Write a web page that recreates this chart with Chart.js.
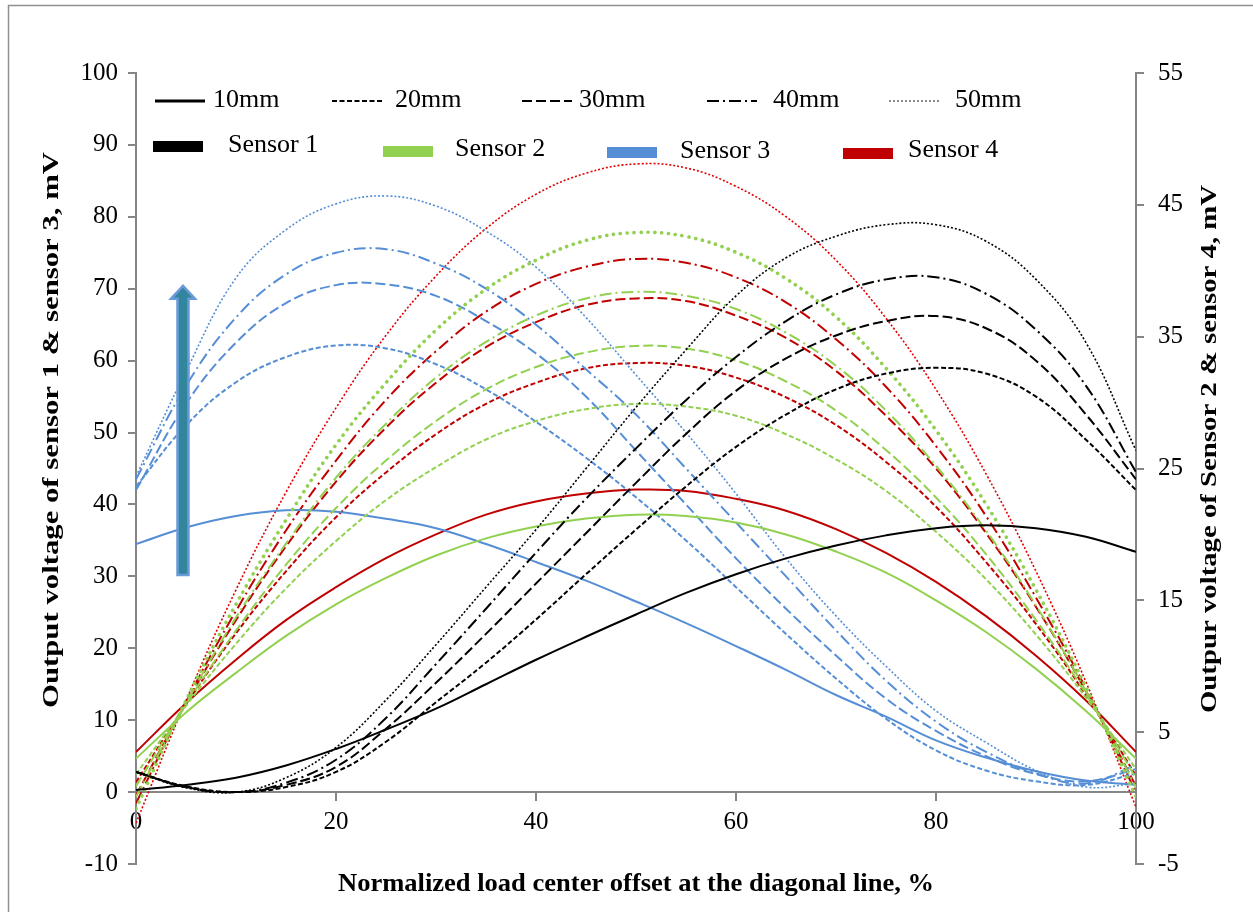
<!DOCTYPE html>
<html>
<head>
<meta charset="utf-8">
<script src="https://cdn.jsdelivr.net/npm/chart.js@4.4.1/dist/chart.umd.min.js"></script>
<style>
html,body{margin:0;padding:0;background:#fff}
canvas{display:block}
</style>
</head>
<body>
<canvas id="chart" width="1253" height="912"></canvas>
<script>
// x positions (normalized load center offset, %)
const xs = [0,5,10,15,20,25,30,35,40,45,50,55,60,65,70,75,80,85,90,95,100];

// Sensor 1 (left axis, mV)
const s1_10mm = [0.3,1.0,2.0,3.7,6.0,8.7,11.6,15.0,18.4,21.6,24.7,27.7,30.3,32.5,34.3,35.7,36.7,37.1,36.7,35.5,33.4];
const s1_20mm = [2.8,0.8,0.0,0.7,2.8,7.0,12.5,18.0,24.0,30.3,36.5,42.5,48.0,52.5,56.0,58.2,59.0,58.2,55.0,49.0,42.0];
const s1_30mm = [2.8,0.7,0.0,1.0,3.5,8.8,15.2,22.0,29.0,36.0,43.0,49.8,55.8,60.3,63.5,65.5,66.2,64.5,60.0,52.5,43.5];
const s1_40mm = [2.8,0.7,0.0,1.3,4.5,10.3,17.8,25.5,33.3,40.8,47.8,54.5,60.5,65.5,69.2,71.3,71.6,69.3,64.3,56.5,44.5];
const s1_50mm = [2.8,0.6,0.0,2.0,6.2,12.8,20.5,28.5,36.5,45.0,53.5,61.5,69.0,74.3,77.3,78.9,78.9,76.6,71.3,62.5,47.5];

// Sensor 3 (left axis, mV)
const s3_10mm = [34.5,36.8,38.4,39.2,39.0,38.0,36.7,34.5,32.0,29.4,26.5,23.5,20.3,17.0,13.5,10.5,7.2,4.8,2.9,1.6,1.0];
const s3_20mm = [42.5,51.0,57.0,60.5,62.1,61.7,59.5,56.0,51.5,46.5,41.0,35.0,28.5,22.0,15.8,10.2,5.8,3.0,1.5,1.0,2.6];
const s3_30mm = [42.0,54.0,62.5,68.0,70.5,70.6,69.0,65.5,61.0,55.0,47.5,40.0,32.5,25.5,19.0,13.0,8.5,5.0,2.5,1.5,3.2];
const s3_40mm = [43.5,56.5,66.0,72.0,75.0,75.5,73.5,70.0,65.0,58.8,52.5,45.0,37.5,30.0,22.5,15.5,9.8,5.6,2.6,1.2,3.8];
const s3_50mm = [43.9,58.5,71.5,78.2,81.8,82.9,81.5,78.0,73.0,66.0,58.0,50.0,41.5,32.5,24.5,17.5,11.3,6.9,3.0,0.7,1.2];

// Sensor 2 (right axis, mV)
const s2_10mm = [3.0,6.5,9.5,12.3,14.7,16.7,18.4,19.7,20.6,21.2,21.5,21.4,20.9,20.0,18.7,17.1,15.0,12.6,9.8,6.6,3.0];
const s2_20mm = [1.8,7.0,11.7,15.9,19.5,22.6,25.1,27.2,28.6,29.5,29.9,29.7,29.0,27.6,25.7,23.3,20.2,16.6,12.4,7.6,2.2];
const s2_30mm = [0.9,7.1,12.7,17.7,22.0,25.6,28.6,31.0,32.7,33.8,34.3,34.1,33.2,31.6,29.4,26.4,22.8,18.5,13.5,7.9,1.5];
const s2_40mm = [0.1,7.2,13.7,19.3,24.3,28.4,31.9,34.6,36.6,37.9,38.4,38.1,37.1,35.3,32.8,29.4,25.2,20.3,14.6,8.1,0.8];
const s2_50mm = [-0.8,7.4,14.7,21.1,26.8,31.5,35.5,38.6,40.8,42.3,42.9,42.6,41.4,39.4,36.5,32.6,27.9,22.3,15.8,8.4,0.1];

// Sensor 4 (right axis, mV)
const s4_10mm = [3.5,7.2,10.5,13.5,16.0,18.2,20.0,21.5,22.5,23.1,23.4,23.3,22.7,21.8,20.4,18.6,16.4,13.8,10.8,7.4,3.5];
const s4_20mm = [1.2,7.1,12.5,17.2,21.3,24.7,27.6,29.9,31.5,32.6,33.0,32.8,31.9,30.4,28.3,25.5,22.1,17.9,13.2,7.8,1.7];
const s4_30mm = [0.2,7.2,13.5,19.1,24.0,28.1,31.5,34.2,36.1,37.4,37.9,37.7,36.6,34.9,32.4,29.0,25.0,20.1,14.5,8.1,0.9];
const s4_40mm = [-0.4,7.3,14.2,20.3,25.6,30.2,33.9,36.9,39.0,40.3,40.9,40.6,39.5,37.6,34.8,31.2,26.7,21.4,15.2,8.3,0.4];
const s4_50mm = [-1.9,7.4,15.8,23.2,29.6,35.1,39.6,43.2,45.8,47.4,48.1,47.8,46.4,44.1,40.8,36.4,31.0,24.6,17.2,8.8,-0.7];

const sizeNames = ['10mm','20mm','30mm','40mm','50mm'];
const sensorNames = ['Sensor 1','Sensor 2','Sensor 3','Sensor 4'];
const leftTicks = {min:-10, max:100, step:10};
const rightTicks = {min:-5, max:55, step:10};
const xTicks = {min:0, max:100, step:20};

const titleLeft = 'Output voltage of sensor 1 & sensor 3, mV';
const titleRight = 'Outpur voltage of Sensor 2 & sensor 4, mV';
const titleX = 'Normalized load center offset at the diagonal line, %';

// styles
const serif = "'Liberation Serif','Times New Roman',serif";
const axisGray = '#868686';
const sensorColors = ['#000000','#92D050','#558ED5','#C00000'];
const dashes = [[], [5,2.5], [10,4], [12,4,2,4], [2,2]];

const sensors = [
  {series:[s1_10mm,s1_20mm,s1_30mm,s1_40mm,s1_50mm], axis:'yL', color:sensorColors[0]},
  {series:[s2_10mm,s2_20mm,s2_30mm,s2_40mm,s2_50mm], axis:'yR', color:sensorColors[1]},
  {series:[s3_10mm,s3_20mm,s3_30mm,s3_40mm,s3_50mm], axis:'yL', color:sensorColors[2]},
  {series:[s4_10mm,s4_20mm,s4_30mm,s4_40mm,s4_50mm], axis:'yR', color:sensorColors[3]},
];

const datasets = [];
sensors.forEach((s,si)=>{
  s.series.forEach((vals,k)=>{
    const ds = {
      label: sensorNames[si]+' '+sizeNames[k],
      data: xs.map((x,i)=>({x:x, y:vals[i]})),
      yAxisID: s.axis,
      borderColor: s.color,
      borderWidth: 2,
      borderDash: dashes[k],
      pointRadius: 0,
      tension: 0.4,
      fill: false
    };
    if(k===4){
      ds.borderWidth = 1.6;
      if(si===1){ ds.borderWidth = 3.6; ds.borderDash = [0.1,6.8]; ds.borderCapStyle = 'round'; }
      if(si===3){ ds.borderColor = '#E00000'; }
    }
    datasets.push(ds);
  });
});

// white page + outer frame
const framePlugin = {
  id:'frame',
  beforeDraw(chart){
    const ctx = chart.ctx;
    ctx.save();
    ctx.fillStyle = '#fff';
    ctx.fillRect(0,0,chart.width,chart.height);
    ctx.strokeStyle = '#8f8f8f';
    ctx.lineWidth = 1.5;
    ctx.strokeRect(8.5,5.5,chart.width+10,chart.height+10);
    ctx.restore();
  }
};

// bold title, stretched along its direction to the reference length
function drawTitle(ctx, text, x, y, rot, size, span){
  ctx.save();
  ctx.translate(x, y);
  ctx.rotate(rot);
  ctx.font = 'bold '+size+'px '+serif;
  const w = ctx.measureText(text).width;
  ctx.scale(span/w, 1);
  ctx.fillText(text, 0, 0);
  ctx.restore();
}

const titlesPlugin = {
  id:'titles',
  afterDraw(chart){
    const ctx = chart.ctx, a = chart.chartArea;
    ctx.save();
    ctx.fillStyle = '#000';
    ctx.textAlign = 'center';
    ctx.textBaseline = 'middle';
    drawTitle(ctx, titleX, (a.left+a.right)/2, a.bottom+20, 0, 26, 596);
    drawTitle(ctx, titleLeft, a.left-84, a.top+357, -Math.PI/2, 24, 556);
    drawTitle(ctx, titleRight, a.right+74, a.top+376, -Math.PI/2, 24, 528);
    ctx.restore();
  }
};

const legendPlugin = {
  id:'customLegend',
  afterDraw(chart){
    const ctx = chart.ctx;
    ctx.save();
    ctx.font = '26px '+serif;
    ctx.fillStyle = '#000';
    ctx.textBaseline = 'alphabetic';
    ctx.textAlign = 'left';
    const sampleX = [155,332,522,707,889];
    const textX = [213,395,579,773,955];
    sizeNames.forEach((n,k)=>{
      ctx.beginPath();
      ctx.setLineDash(dashes[k]);
      ctx.lineWidth = k===0 ? 3 : 2;
      ctx.strokeStyle = k===4 ? '#8a8a8a' : '#000';
      ctx.moveTo(sampleX[k], 101);
      ctx.lineTo(sampleX[k]+50, 101);
      ctx.stroke();
      ctx.fillText(n, textX[k], 107);
    });
    ctx.setLineDash([]);
    const boxX = [153,383,607,843];
    const boxY = [141,146,147,148];
    const txtX = [228,455,680,908];
    const txtY = [152,156,158,157];
    sensorNames.forEach((n,i)=>{
      ctx.fillStyle = sensorColors[i];
      ctx.fillRect(boxX[i], boxY[i], 50, 11);
      ctx.fillStyle = '#000';
      ctx.fillText(n, txtX[i], txtY[i]);
    });
    ctx.restore();
  }
};

// the "increasing size" arrow
const arrowPlugin = {
  id:'arrow',
  afterDatasetsDraw(chart){
    const ctx = chart.ctx, x = chart.scales.x, y = chart.scales.yL;
    const ax = x.getPixelForValue(4.7);
    const top = y.getPixelForValue(70.4), bot = y.getPixelForValue(30.2);
    ctx.save();
    ctx.beginPath();
    ctx.moveTo(ax-5.5, bot);
    ctx.lineTo(ax-5.5, top+13);
    ctx.lineTo(ax-12, top+13);
    ctx.lineTo(ax, top);
    ctx.lineTo(ax+12, top+13);
    ctx.lineTo(ax+5.5, top+13);
    ctx.lineTo(ax+5.5, bot);
    ctx.closePath();
    ctx.fillStyle = '#31859C';
    ctx.fill();
    ctx.lineWidth = 2.5;
    ctx.strokeStyle = '#6A9BD8';
    ctx.stroke();
    ctx.restore();
  }
};

const tickFont = {family: serif, size: 25};

new Chart(document.getElementById('chart'), {
  type:'line',
  data:{datasets},
  options:{
    responsive:false,
    animation:false,
    devicePixelRatio:1,
    layout:{padding:{top:73, left:0, right:0, bottom:48}},
    plugins:{legend:{display:false}, tooltip:{enabled:false}},
    scales:{
      x:{
        type:'linear',
        position:{yL:0},
        min:xTicks.min, max:xTicks.max,
        ticks:{stepSize:xTicks.step, font:tickFont, color:'#000', padding:7, maxRotation:0},
        grid:{drawOnChartArea:false, tickLength:8, color:axisGray, lineWidth:2},
        border:{color:axisGray, width:2}
      },
      yL:{
        position:'left',
        min:leftTicks.min, max:leftTicks.max,
        ticks:{stepSize:leftTicks.step, font:tickFont, color:'#000', padding:10},
        grid:{drawOnChartArea:false, tickLength:8, color:axisGray, lineWidth:2},
        border:{color:axisGray, width:2},
        afterFit(s){ s.width = 136; }
      },
      yR:{
        position:'right',
        min:rightTicks.min, max:rightTicks.max,
        ticks:{stepSize:rightTicks.step, font:tickFont, color:'#000', padding:14},
        grid:{drawOnChartArea:false, tickLength:8, color:axisGray, lineWidth:2},
        border:{color:axisGray, width:2},
        afterFit(s){ s.width = 117; }
      }
    }
  },
  plugins:[framePlugin, arrowPlugin, titlesPlugin, legendPlugin]
});
</script>
</body>
</html>
